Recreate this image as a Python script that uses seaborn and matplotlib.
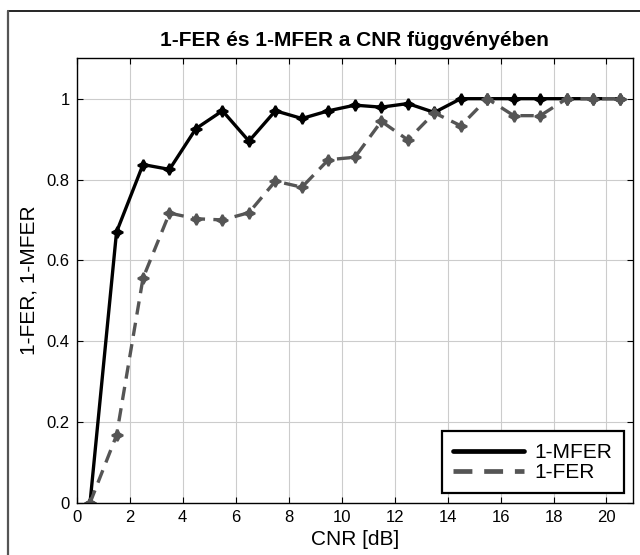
import pandas as pd
import seaborn as sns
import matplotlib.pyplot as plt
from matplotlib.lines import Line2D

cnr = [0.5, 1.5, 2.5, 3.5, 4.5, 5.5, 6.5, 7.5, 8.5, 9.5, 10.5,
       11.5, 12.5, 13.5, 14.5, 15.5, 16.5, 17.5, 18.5, 19.5, 20.5]
mfer = [0.0, 0.670, 0.837, 0.825, 0.926, 0.970, 0.895, 0.970, 0.951, 0.970, 0.984,
        0.979, 0.988, 0.966, 1.0, 1.0, 1.0, 1.0, 1.0, 1.0, 1.0]
fer = [0.0, 0.167, 0.556, 0.717, 0.703, 0.700, 0.718, 0.796, 0.781, 0.849, 0.855,
       0.944, 0.898, 0.965, 0.933, 1.0, 0.958, 0.958, 1.0, 1.0, 1.0]
xticks = list(range(0, 21, 2))
yticks = [0, 0.2, 0.4, 0.6, 0.8, 1.0]
ytick_labels = ["0", "0.2", "0.4", "0.6", "0.8", "1"]

sns.set_style("whitegrid", {"grid.color": "#cccccc", "axes.edgecolor": "black",
                            "xtick.direction": "in", "ytick.direction": "in",
                            "text.color": "black", "axes.labelcolor": "black",
                            "xtick.color": "black", "ytick.color": "black"})
plt.rcParams['font.family'] = ['Liberation Sans', 'DejaVu Sans']

df = pd.DataFrame({"CNR": cnr, "1-MFER": mfer, "1-FER": fer})

fig = plt.figure(figsize=(6.4, 5.55), dpi=100)
ax = fig.add_axes([0.120, 0.094, 0.869, 0.801])

star = (4, 1, 0)
sns.lineplot(data=df, x="CNR", y="1-MFER", ax=ax, color="black", linewidth=2.4,
             marker=star, markersize=8, markeredgewidth=1.5, markeredgecolor="black",
             label="1-MFER")
sns.lineplot(data=df, x="CNR", y="1-FER", ax=ax, color="#555555", linewidth=2.4,
             linestyle=(0, (4, 2.5)), marker=star, markersize=8, markeredgewidth=1.5,
             markeredgecolor="#555555", label="1-FER")

ax.set_xlim(0, 21)
ax.set_ylim(0, 1.1)
ax.set_xticks(xticks)
ax.set_yticks(yticks)
ax.set_yticklabels(ytick_labels)
ax.tick_params(axis="both", labelsize=12, length=4, color="black", labelcolor="black",
               top=True, right=True, bottom=True, left=True, pad=5)
ax.grid(True, linewidth=0.8)
for s in ax.spines.values():
    s.set_color("black")
    s.set_linewidth(1.0)

ax.set_title("1-FER és 1-MFER a CNR függvényében", fontsize=15, fontweight="bold",
             color="black", pad=9)
ax.set_xlabel("CNR [dB]", fontsize=15, labelpad=4, color="black")
ax.set_ylabel("1-FER, 1-MFER", fontsize=15, labelpad=6, color="black")

leg = ax.legend(loc="lower right", fontsize=15, frameon=True, fancybox=False,
                handlelength=3.4, handletextpad=0.5, borderpad=0.55,
                labelspacing=0.05, borderaxespad=0.45)
leg.get_frame().set_edgecolor("black")
leg.get_frame().set_linewidth(1.6)
leg.get_frame().set_alpha(1)
for t in leg.get_texts():
    t.set_color("black")
for h in leg.legend_handles:
    h.set_marker("")
    h.set_linewidth(3.4)

# frame lines at the top and left of the picture
fig.add_artist(Line2D([8 / 640, 1.0], [1 - 11 / 555, 1 - 11 / 555], transform=fig.transFigure,
                      color="black", linewidth=1.2))
fig.add_artist(Line2D([8 / 640, 8 / 640], [0.0, 1 - 11 / 555], transform=fig.transFigure,
                      color="#555555", linewidth=1.6))

fig.savefig("out.png", dpi=100)
